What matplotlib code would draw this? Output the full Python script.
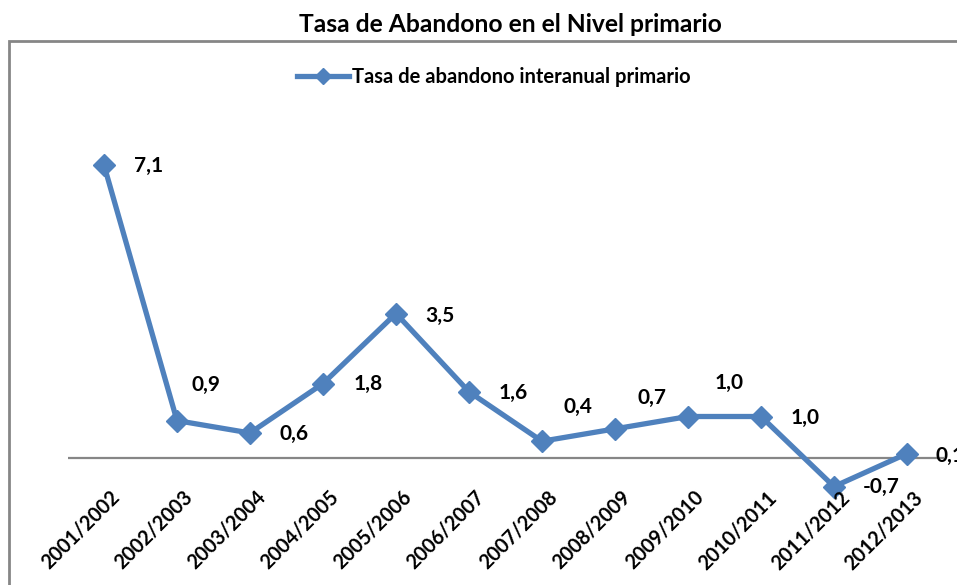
import matplotlib
matplotlib.use('Agg')
import matplotlib.pyplot as plt
from matplotlib.patches import Rectangle
from matplotlib.transforms import ScaledTranslation

categories = ['2001/2002', '2002/2003', '2003/2004', '2004/2005', '2005/2006',
              '2006/2007', '2007/2008', '2008/2009', '2009/2010', '2010/2011',
              '2011/2012', '2012/2013']
values = [7.1, 0.9, 0.6, 1.8, 3.5, 1.6, 0.4, 0.7, 1.0, 1.0, -0.7, 0.1]
series_name = 'Tasa de abandono interanual primario'
title = 'Tasa de Abandono en el Nivel primario'

# data-label offsets in pixels (dx right, dy up)
label_offsets = [(30, -1), (14, 36), (30, -1), (31, 0), (29, -2), (30, -1),
                 (22, 34), (23, 31), (27, 34), (30, -1), (29, 0), (29, -2)]

W, H = 957, 585
DPI = 100
FONT = 'Lato'
BLUE = '#4F81BD'
GRAY = '#868686'

fig = plt.figure(figsize=(W / DPI, H / DPI), dpi=DPI)

# outer chart border (extends beyond right / bottom edges)
fig.patches.append(Rectangle((9 / W, -0.1), 1.2, 1.1 - 41 / H,
                             transform=fig.transFigure, fill=False,
                             edgecolor=GRAY, linewidth=2.0, zorder=0))

# plot area: zero at y=457.7 px, 41.2 px per unit
zero_px = 457.7
ppu = 41.2
ymin, ymax = -1.0, 8.5
bottom_px = zero_px + (0 - ymin) * ppu
top_px = zero_px - ymax * ppu
left_px, right_px = 67.5, 943.5
ax = fig.add_axes([left_px / W, (H - bottom_px) / H,
                   (right_px - left_px) / W, (bottom_px - top_px) / H])
ax.set_xlim(-0.5, len(categories) - 0.5)
ax.set_ylim(ymin, ymax)
ax.patch.set_alpha(0)
for s in ax.spines.values():
    s.set_visible(False)
ax.set_yticks([])
ax.set_xticks(range(len(categories)))
ax.set_xticklabels([])
ax.tick_params(axis='x', length=0)

ax.axhline(0, color=GRAY, linewidth=1.6, zorder=1)

x = list(range(len(categories)))
line, = ax.plot(x, values, color=BLUE, linewidth=3.8, marker='D',
                markersize=11, markerfacecolor=BLUE, markeredgecolor=BLUE,
                zorder=3, label=series_name, clip_on=False)

for i, (v, off) in enumerate(zip(values, label_offsets)):
    ax.annotate(f'{v:.1f}'.replace('.', ','), (i, v), xytext=off,
                textcoords='offset pixels', ha='left', va='center',
                fontsize=15, fontweight='bold', family=FONT, color='black',
                annotation_clip=False)

# category labels
lab_y_px = 487.0
for i, c in enumerate(categories):
    ax.text(i, (zero_px - lab_y_px) / ppu, c, rotation=45,
            ha='right', va='top', rotation_mode='anchor',
            fontsize=14.3, fontweight='bold', family=FONT, color='black',
            transform=ax.transData + ScaledTranslation(5 / DPI, 0, fig.dpi_scale_trans))

fig.text(510 / W, 1 - 25 / H, title, ha='center', va='center',
         fontsize=17.7, fontweight='bold', family=FONT, color='black')

leg = fig.legend(handles=[line], loc='center', bbox_to_anchor=(494 / W, 1 - 77 / H),
                 frameon=False, prop={'family': FONT, 'weight': 'bold', 'size': 14.5},
                 handlelength=2.6, handletextpad=0.15, markerscale=0.75)

fig.savefig('out.png', dpi=DPI)
